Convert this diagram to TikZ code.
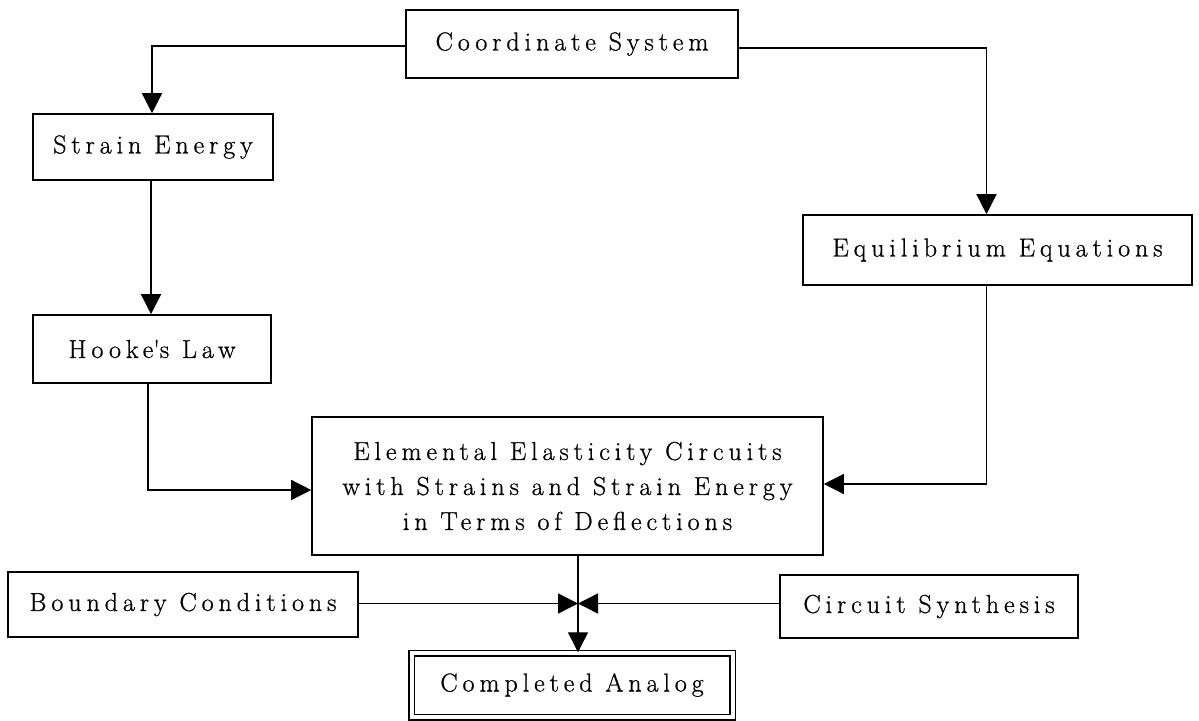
\documentclass[tikz,border=0pt]{standalone}
\usepackage{fontspec}
\newfontfamily\spacedfont{Latin Modern Roman}[LetterSpace=19,FakeBold=0.8]
\usetikzlibrary{arrows.meta}
\tikzset{
  txt/.style={font=\spacedfont\fontsize{26}{35}\selectfont},
  boxnode/.style={draw, line width=1.6pt, inner sep=0pt, txt, align=center},
  conn/.style={line width=1.4pt},
  arr/.style={conn, -{Triangle[length=20pt,width=20pt]}},
}
\begin{document}
\begin{tikzpicture}[x=1pt,y=-1pt]
\useasboundingbox (0,0) rectangle (1199,720);
\node[boxnode, minimum width=332pt, minimum height=68pt] (coord) at (572,44) {Coordinate System};
\node[boxnode, minimum width=240pt, minimum height=66pt] (strain) at (153,147) {Strain Energy};
\node[boxnode, minimum width=238pt, minimum height=68pt] (hooke) at (152,349) {Hooke\textquotesingle s Law};
\node[boxnode, minimum width=389pt, minimum height=70pt] (equil) at (997.5,250) {Equilibrium Equations};
\node[boxnode, minimum width=511pt, minimum height=138pt] (elem) at (567.5,486) {Elemental Elasticity Circuits\\with Strains and Strain Energy\\in Terms of Deflections};
\node[boxnode, minimum width=350pt, minimum height=65pt] (bound) at (183,604.5) {Boundary Conditions};
\node[boxnode, minimum width=298pt, minimum height=63pt] (circ) at (929,606.5) {Circuit Synthesis};
\node[boxnode, double, line width=1.5pt, double distance=4pt, minimum width=321pt, minimum height=64pt] (analog) at (572,685) {Completed Analog};
\coordinate (j) at (578,603.5);

\draw[arr] ([yshift=-2pt]coord.west) -| ([xshift=-1pt]strain.north);
\draw[arr] ([yshift=-4pt]coord.east) -| ([xshift=-11pt]equil.north);
\draw[arr] ([xshift=-2pt]strain.south) -- ([xshift=-2pt]strain.south |- hooke.north);
\draw[arr] ([xshift=-4pt]hooke.south) |- ([yshift=-4pt]elem.west);
\draw[arr] ([xshift=-11pt]equil.south) |- ([yshift=2pt]elem.east);
\draw[conn] (elem.south -| j) -- (j);
\draw[arr] (j) -- (j |- analog.north);
\draw[arr] (bound.east |- j) -- (j);
\draw[arr] (circ.west |- j) -- (j);
\end{tikzpicture}
\end{document}
